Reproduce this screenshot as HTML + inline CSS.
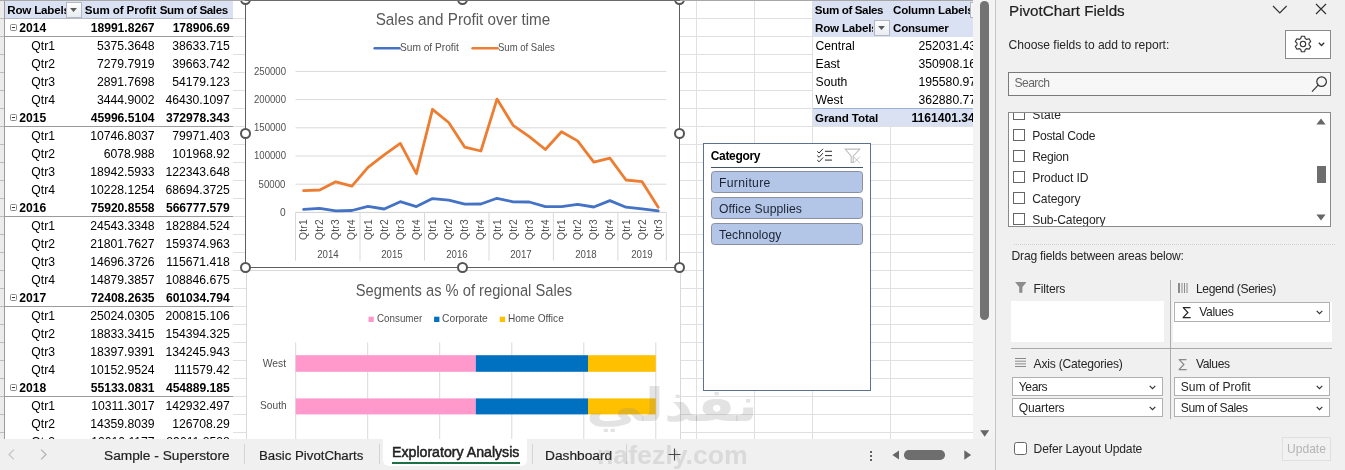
<!DOCTYPE html>
<html lang="en"><head><meta charset="utf-8"><title>Exploratory Analysis</title>
<style>
html,body{margin:0;padding:0}
body{width:1345px;height:470px;overflow:hidden;position:relative;background:#fff;font-family:"Liberation Sans",sans-serif;color:#000}
#root{position:absolute;left:0;top:0;width:1345px;height:470px;overflow:hidden}
#root div,#root span,#root svg{position:absolute;box-sizing:border-box}
#root span{line-height:18px;white-space:nowrap}
</style></head><body><div id="root">

<div id="sheet" style="left:0;top:0;width:973px;height:439px;background:#fff;overflow:hidden">
<div style="left:0px;top:18px;width:973px;height:1px;background:#e0e0e0"></div>
<div style="left:0px;top:36px;width:973px;height:1px;background:#e0e0e0"></div>
<div style="left:0px;top:54px;width:973px;height:1px;background:#e0e0e0"></div>
<div style="left:0px;top:72px;width:973px;height:1px;background:#e0e0e0"></div>
<div style="left:0px;top:90px;width:973px;height:1px;background:#e0e0e0"></div>
<div style="left:0px;top:108px;width:973px;height:1px;background:#e0e0e0"></div>
<div style="left:0px;top:126px;width:973px;height:1px;background:#e0e0e0"></div>
<div style="left:0px;top:144px;width:973px;height:1px;background:#e0e0e0"></div>
<div style="left:0px;top:162px;width:973px;height:1px;background:#e0e0e0"></div>
<div style="left:0px;top:180px;width:973px;height:1px;background:#e0e0e0"></div>
<div style="left:0px;top:198px;width:973px;height:1px;background:#e0e0e0"></div>
<div style="left:0px;top:216px;width:973px;height:1px;background:#e0e0e0"></div>
<div style="left:0px;top:234px;width:973px;height:1px;background:#e0e0e0"></div>
<div style="left:0px;top:252px;width:973px;height:1px;background:#e0e0e0"></div>
<div style="left:0px;top:270px;width:973px;height:1px;background:#e0e0e0"></div>
<div style="left:0px;top:288px;width:973px;height:1px;background:#e0e0e0"></div>
<div style="left:0px;top:306px;width:973px;height:1px;background:#e0e0e0"></div>
<div style="left:0px;top:324px;width:973px;height:1px;background:#e0e0e0"></div>
<div style="left:0px;top:342px;width:973px;height:1px;background:#e0e0e0"></div>
<div style="left:0px;top:360px;width:973px;height:1px;background:#e0e0e0"></div>
<div style="left:0px;top:378px;width:973px;height:1px;background:#e0e0e0"></div>
<div style="left:0px;top:396px;width:973px;height:1px;background:#e0e0e0"></div>
<div style="left:0px;top:414px;width:973px;height:1px;background:#e0e0e0"></div>
<div style="left:0px;top:432px;width:973px;height:1px;background:#e0e0e0"></div>
<div style="left:232.0px;top:0px;width:1px;height:439px;background:#e0e0e0"></div>
<div style="left:696.0px;top:0px;width:1px;height:439px;background:#e0e0e0"></div>
<div style="left:754.0px;top:0px;width:1px;height:439px;background:#e0e0e0"></div>
<div style="left:812.0px;top:0px;width:1px;height:439px;background:#e0e0e0"></div>
<div style="left:890.0px;top:0px;width:1px;height:439px;background:#e0e0e0"></div>
<div style="left:0px;top:0px;width:4px;height:439px;background:#ececec"></div>
<div style="left:0px;top:18px;width:4px;height:1px;background:#bdbdbd"></div>
<div style="left:0px;top:36px;width:4px;height:1px;background:#bdbdbd"></div>
<div style="left:0px;top:54px;width:4px;height:1px;background:#bdbdbd"></div>
<div style="left:0px;top:72px;width:4px;height:1px;background:#bdbdbd"></div>
<div style="left:0px;top:90px;width:4px;height:1px;background:#bdbdbd"></div>
<div style="left:0px;top:108px;width:4px;height:1px;background:#bdbdbd"></div>
<div style="left:0px;top:126px;width:4px;height:1px;background:#bdbdbd"></div>
<div style="left:0px;top:144px;width:4px;height:1px;background:#bdbdbd"></div>
<div style="left:0px;top:162px;width:4px;height:1px;background:#bdbdbd"></div>
<div style="left:0px;top:180px;width:4px;height:1px;background:#bdbdbd"></div>
<div style="left:0px;top:198px;width:4px;height:1px;background:#bdbdbd"></div>
<div style="left:0px;top:216px;width:4px;height:1px;background:#bdbdbd"></div>
<div style="left:0px;top:234px;width:4px;height:1px;background:#bdbdbd"></div>
<div style="left:0px;top:252px;width:4px;height:1px;background:#bdbdbd"></div>
<div style="left:0px;top:270px;width:4px;height:1px;background:#bdbdbd"></div>
<div style="left:0px;top:288px;width:4px;height:1px;background:#bdbdbd"></div>
<div style="left:0px;top:306px;width:4px;height:1px;background:#bdbdbd"></div>
<div style="left:0px;top:324px;width:4px;height:1px;background:#bdbdbd"></div>
<div style="left:0px;top:342px;width:4px;height:1px;background:#bdbdbd"></div>
<div style="left:0px;top:360px;width:4px;height:1px;background:#bdbdbd"></div>
<div style="left:0px;top:378px;width:4px;height:1px;background:#bdbdbd"></div>
<div style="left:0px;top:396px;width:4px;height:1px;background:#bdbdbd"></div>
<div style="left:0px;top:414px;width:4px;height:1px;background:#bdbdbd"></div>
<div style="left:0px;top:432px;width:4px;height:1px;background:#bdbdbd"></div>
<div style="left:4px;top:0px;width:1px;height:439px;background:#9c9c9c"></div>
</div>
<div id="pt1" style="left:5px;top:0;width:227.5px;height:439px;background:#fff;overflow:hidden"></div>
<div style="left:5px;top:0px;width:227.5px;height:19px;background:#d9e1f2;border-bottom:1px solid #b4bac6"></div>
<span style="top:0.80px;font-size:11.6px;font-weight:700;letter-spacing:-0.184px;left:7.20px;width:58.8px;overflow:hidden;">Row Labels</span>
<span style="top:0.80px;font-size:11.6px;font-weight:700;letter-spacing:-0.102px;left:84.80px;">Sum of Profit</span>
<span style="top:0.80px;font-size:11.6px;font-weight:700;letter-spacing:-0.386px;right:1117.19px;">Sum of Sales</span>
<div style="left:66px;top:1.5px;width:15.5px;height:16px;background:linear-gradient(#fdfdfd,#e9edf2);border:1px solid #b5b9bf"></div>
<svg style="left:70px;top:7.8px" width="7" height="4.2" viewBox="0 0 7 4.2"><path d="M0.1 0.1h6.8L3.5 4.1z" fill="#5c5c5c"/></svg>
<span style="top:18.60px;font-size:12.1px;font-weight:700;left:19.30px;">2014</span>
<span style="top:18.60px;font-size:12.1px;font-weight:700;right:1190.40px;">18991.8267</span>
<span style="top:18.60px;font-size:12.1px;font-weight:700;right:1115.20px;">178906.69</span>
<div style="left:5px;top:36px;width:227.5px;height:1px;background:#9a9a9a"></div>
<div style="left:10px;top:24.0px;width:7px;height:7px;border:1px solid #8c8c8c;background:#fff;border-radius:1.5px"></div>
<div style="left:12px;top:27.1px;width:3px;height:1px;background:#333"></div>
<span style="top:36.60px;font-size:12.2px;left:31.30px;">Qtr1</span>
<span style="top:36.60px;font-size:12.2px;right:1190.40px;">5375.3648</span>
<span style="top:36.60px;font-size:12.2px;right:1115.20px;">38633.715</span>
<span style="top:54.60px;font-size:12.2px;left:31.30px;">Qtr2</span>
<span style="top:54.60px;font-size:12.2px;right:1190.40px;">7279.7919</span>
<span style="top:54.60px;font-size:12.2px;right:1115.20px;">39663.742</span>
<span style="top:72.60px;font-size:12.2px;left:31.30px;">Qtr3</span>
<span style="top:72.60px;font-size:12.2px;right:1190.40px;">2891.7698</span>
<span style="top:72.60px;font-size:12.2px;right:1115.20px;">54179.123</span>
<span style="top:90.60px;font-size:12.2px;left:31.30px;">Qtr4</span>
<span style="top:90.60px;font-size:12.2px;right:1190.40px;">3444.9002</span>
<span style="top:90.60px;font-size:12.2px;right:1115.20px;">46430.1097</span>
<span style="top:108.60px;font-size:12.1px;font-weight:700;left:19.30px;">2015</span>
<span style="top:108.60px;font-size:12.1px;font-weight:700;right:1190.40px;">45996.5104</span>
<span style="top:108.60px;font-size:12.1px;font-weight:700;right:1115.20px;">372978.343</span>
<div style="left:5px;top:126px;width:227.5px;height:1px;background:#9a9a9a"></div>
<div style="left:10px;top:114.0px;width:7px;height:7px;border:1px solid #8c8c8c;background:#fff;border-radius:1.5px"></div>
<div style="left:12px;top:117.1px;width:3px;height:1px;background:#333"></div>
<span style="top:126.60px;font-size:12.2px;left:31.30px;">Qtr1</span>
<span style="top:126.60px;font-size:12.2px;right:1190.40px;">10746.8037</span>
<span style="top:126.60px;font-size:12.2px;right:1115.20px;">79971.403</span>
<span style="top:144.60px;font-size:12.2px;left:31.30px;">Qtr2</span>
<span style="top:144.60px;font-size:12.2px;right:1190.40px;">6078.988</span>
<span style="top:144.60px;font-size:12.2px;right:1115.20px;">101968.92</span>
<span style="top:162.60px;font-size:12.2px;left:31.30px;">Qtr3</span>
<span style="top:162.60px;font-size:12.2px;right:1190.40px;">18942.5933</span>
<span style="top:162.60px;font-size:12.2px;right:1115.20px;">122343.648</span>
<span style="top:180.60px;font-size:12.2px;left:31.30px;">Qtr4</span>
<span style="top:180.60px;font-size:12.2px;right:1190.40px;">10228.1254</span>
<span style="top:180.60px;font-size:12.2px;right:1115.20px;">68694.3725</span>
<span style="top:198.60px;font-size:12.1px;font-weight:700;left:19.30px;">2016</span>
<span style="top:198.60px;font-size:12.1px;font-weight:700;right:1190.40px;">75920.8558</span>
<span style="top:198.60px;font-size:12.1px;font-weight:700;right:1115.20px;">566777.579</span>
<div style="left:5px;top:216px;width:227.5px;height:1px;background:#9a9a9a"></div>
<div style="left:10px;top:204.0px;width:7px;height:7px;border:1px solid #8c8c8c;background:#fff;border-radius:1.5px"></div>
<div style="left:12px;top:207.1px;width:3px;height:1px;background:#333"></div>
<span style="top:216.60px;font-size:12.2px;left:31.30px;">Qtr1</span>
<span style="top:216.60px;font-size:12.2px;right:1190.40px;">24543.3348</span>
<span style="top:216.60px;font-size:12.2px;right:1115.20px;">182884.524</span>
<span style="top:234.60px;font-size:12.2px;left:31.30px;">Qtr2</span>
<span style="top:234.60px;font-size:12.2px;right:1190.40px;">21801.7627</span>
<span style="top:234.60px;font-size:12.2px;right:1115.20px;">159374.963</span>
<span style="top:252.60px;font-size:12.2px;left:31.30px;">Qtr3</span>
<span style="top:252.60px;font-size:12.2px;right:1190.40px;">14696.3726</span>
<span style="top:252.60px;font-size:12.2px;right:1115.20px;">115671.418</span>
<span style="top:270.60px;font-size:12.2px;left:31.30px;">Qtr4</span>
<span style="top:270.60px;font-size:12.2px;right:1190.40px;">14879.3857</span>
<span style="top:270.60px;font-size:12.2px;right:1115.20px;">108846.675</span>
<span style="top:288.60px;font-size:12.1px;font-weight:700;left:19.30px;">2017</span>
<span style="top:288.60px;font-size:12.1px;font-weight:700;right:1190.40px;">72408.2635</span>
<span style="top:288.60px;font-size:12.1px;font-weight:700;right:1115.20px;">601034.794</span>
<div style="left:5px;top:306px;width:227.5px;height:1px;background:#9a9a9a"></div>
<div style="left:10px;top:294.0px;width:7px;height:7px;border:1px solid #8c8c8c;background:#fff;border-radius:1.5px"></div>
<div style="left:12px;top:297.1px;width:3px;height:1px;background:#333"></div>
<span style="top:306.60px;font-size:12.2px;left:31.30px;">Qtr1</span>
<span style="top:306.60px;font-size:12.2px;right:1190.40px;">25024.0305</span>
<span style="top:306.60px;font-size:12.2px;right:1115.20px;">200815.106</span>
<span style="top:324.60px;font-size:12.2px;left:31.30px;">Qtr2</span>
<span style="top:324.60px;font-size:12.2px;right:1190.40px;">18833.3415</span>
<span style="top:324.60px;font-size:12.2px;right:1115.20px;">154394.325</span>
<span style="top:342.60px;font-size:12.2px;left:31.30px;">Qtr3</span>
<span style="top:342.60px;font-size:12.2px;right:1190.40px;">18397.9391</span>
<span style="top:342.60px;font-size:12.2px;right:1115.20px;">134245.943</span>
<span style="top:360.60px;font-size:12.2px;left:31.30px;">Qtr4</span>
<span style="top:360.60px;font-size:12.2px;right:1190.40px;">10152.9524</span>
<span style="top:360.60px;font-size:12.2px;right:1115.20px;">111579.42</span>
<span style="top:378.60px;font-size:12.1px;font-weight:700;left:19.30px;">2018</span>
<span style="top:378.60px;font-size:12.1px;font-weight:700;right:1190.40px;">55133.0831</span>
<span style="top:378.60px;font-size:12.1px;font-weight:700;right:1115.20px;">454889.185</span>
<div style="left:5px;top:396px;width:227.5px;height:1px;background:#9a9a9a"></div>
<div style="left:10px;top:384.0px;width:7px;height:7px;border:1px solid #8c8c8c;background:#fff;border-radius:1.5px"></div>
<div style="left:12px;top:387.1px;width:3px;height:1px;background:#333"></div>
<span style="top:396.60px;font-size:12.2px;left:31.30px;">Qtr1</span>
<span style="top:396.60px;font-size:12.2px;right:1190.40px;">10311.3017</span>
<span style="top:396.60px;font-size:12.2px;right:1115.20px;">142932.497</span>
<span style="top:414.60px;font-size:12.2px;left:31.30px;">Qtr2</span>
<span style="top:414.60px;font-size:12.2px;right:1190.40px;">14359.8039</span>
<span style="top:414.60px;font-size:12.2px;right:1115.20px;">126708.29</span>
<span style="top:432.60px;font-size:12.2px;left:31.30px;">Qtr3</span>
<span style="top:432.60px;font-size:12.2px;right:1190.40px;">12010.1177</span>
<span style="top:432.60px;font-size:12.2px;right:1115.20px;">89011.3538</span>
<div id="pt2" style="left:813px;top:0;width:160px;height:126px;background:#fff;overflow:hidden">
<div style="left:0;top:0;width:160px;height:36.5px;background:#d9e1f2"></div>
<div style="left:0;top:108px;width:160px;height:18px;background:#d9e1f2;border-top:1px solid #9ab3d5"></div>
</div>
<span style="top:1.00px;font-size:11.6px;font-weight:700;letter-spacing:-0.368px;left:814.80px;">Sum of Sales</span>
<span style="top:1.00px;font-size:11.6px;font-weight:700;letter-spacing:-0.195px;left:893.00px;width:76.6px;overflow:hidden;">Column Labels</span>
<span style="top:19.00px;font-size:11.6px;font-weight:700;letter-spacing:-0.184px;left:815.00px;width:58.4px;overflow:hidden;">Row Labels</span>
<span style="top:19.00px;font-size:11.6px;font-weight:700;letter-spacing:-0.224px;left:893.00px;">Consumer</span>
<div style="left:873.5px;top:19.5px;width:16px;height:16.5px;background:linear-gradient(#fdfdfd,#e9edf2);border:1px solid #b5b9bf"></div>
<svg style="left:878px;top:25.8px" width="7" height="4.2" viewBox="0 0 7 4.2"><path d="M0.1 0.1h6.8L3.5 4.1z" fill="#5c5c5c"/></svg>
<div style="left:970px;top:1.5px;width:3px;height:16px;background:#f3f5f8;border:1px solid #b5b9bf;border-right:0"></div>
<span style="top:36.60px;font-size:12.2px;left:815.50px;">Central</span>
<span style="top:36.60px;font-size:12.2px;left:918.50px;width:54.5px;overflow:hidden;">252031.434</span>
<span style="top:54.60px;font-size:12.2px;left:815.50px;">East</span>
<span style="top:54.60px;font-size:12.2px;left:918.50px;width:54.5px;overflow:hidden;">350908.167</span>
<span style="top:72.60px;font-size:12.2px;left:815.50px;">South</span>
<span style="top:72.60px;font-size:12.2px;left:918.50px;width:54.5px;overflow:hidden;">195580.971</span>
<span style="top:90.60px;font-size:12.2px;left:815.50px;">West</span>
<span style="top:90.60px;font-size:12.2px;left:918.50px;width:54.5px;overflow:hidden;">362880.773</span>
<span style="top:108.80px;font-size:11.6px;font-weight:700;letter-spacing:-0.093px;left:815.00px;">Grand Total</span>
<span style="top:108.80px;font-size:12.1px;font-weight:700;left:911.50px;width:61.5px;overflow:hidden;">1161401.345</span>
<div id="chart2" style="left:246px;top:269.5px;width:435px;height:170px;background:#fff;border:1px solid #d9d9d9"></div>
<svg id="c2" style="left:0;top:0" width="973" height="439" viewBox="0 0 973 439">
<line x1="295.7" y1="342.5" x2="295.7" y2="439" stroke="#d9d9d9" stroke-width="1"/>
<line x1="367.7" y1="342.5" x2="367.7" y2="439" stroke="#d9d9d9" stroke-width="1"/>
<line x1="439.7" y1="342.5" x2="439.7" y2="439" stroke="#d9d9d9" stroke-width="1"/>
<line x1="511.8" y1="342.5" x2="511.8" y2="439" stroke="#d9d9d9" stroke-width="1"/>
<line x1="583.8" y1="342.5" x2="583.8" y2="439" stroke="#d9d9d9" stroke-width="1"/>
<line x1="655.8" y1="342.5" x2="655.8" y2="439" stroke="#d9d9d9" stroke-width="1"/>
<rect x="295.7" y="355.2" width="180.1" height="16.6" fill="#ff99cc"/>
<rect x="475.8" y="355.2" width="112.2" height="16.6" fill="#0070c0"/>
<rect x="588" y="355.2" width="67.8" height="16.6" fill="#ffc000"/>
<rect x="295.7" y="398.4" width="180.1" height="16.0" fill="#ff99cc"/>
<rect x="475.8" y="398.4" width="112.2" height="16.0" fill="#0070c0"/>
<rect x="588" y="398.4" width="67.8" height="16.0" fill="#ffc000"/>
<rect x="368.5" y="316.7" width="5.3" height="5.3" fill="#ff99cc"/>
<rect x="434.1" y="316.7" width="5.3" height="5.3" fill="#0070c0"/>
<rect x="499.8" y="316.7" width="5.3" height="5.3" fill="#ffc000"/>
</svg>
<span style="top:281.30px;font-size:16.3px;color:#595959;left:164.00px;width:600px;text-align:center;transform:scaleX(0.9021);transform-origin:50% 50%;">Segments as % of regional Sales</span>
<span style="top:309.90px;font-size:10.2px;color:#505050;left:376.60px;transform:scaleX(0.9628);transform-origin:0 50%;">Consumer</span>
<span style="top:309.90px;font-size:10.2px;color:#505050;left:441.80px;transform:scaleX(1.0097);transform-origin:0 50%;">Corporate</span>
<span style="top:309.90px;font-size:10.2px;color:#505050;left:507.60px;transform:scaleX(0.9876);transform-origin:0 50%;">Home Office</span>
<span style="top:354.60px;font-size:10.2px;color:#505050;right:1058.70px;transform:scaleX(1.0152);transform-origin:100% 50%;">West</span>
<span style="top:396.60px;font-size:10.2px;color:#505050;right:1058.70px;transform:scaleX(0.9979);transform-origin:100% 50%;">South</span>
<div id="chart1" style="left:245px;top:-1px;width:435.4px;height:269px;background:#fff;border:1.5px solid #5e5e5e"></div>
<svg id="c1" style="left:0;top:0" width="973" height="439" viewBox="0 0 973 439">
<line x1="295.5" y1="184.2" x2="666.3" y2="184.2" stroke="#d9d9d9" stroke-width="1"/>
<line x1="295.5" y1="156.0" x2="666.3" y2="156.0" stroke="#d9d9d9" stroke-width="1"/>
<line x1="295.5" y1="127.8" x2="666.3" y2="127.8" stroke="#d9d9d9" stroke-width="1"/>
<line x1="295.5" y1="99.6" x2="666.3" y2="99.6" stroke="#d9d9d9" stroke-width="1"/>
<line x1="295.5" y1="71.4" x2="666.3" y2="71.4" stroke="#d9d9d9" stroke-width="1"/>
<line x1="295.5" y1="212.4" x2="666.3" y2="212.4" stroke="#d0d0d0" stroke-width="1"/>
<line x1="295.5" y1="212.4" x2="295.5" y2="260.6" stroke="#d9d9d9" stroke-width="1"/>
<line x1="360.0" y1="212.4" x2="360.0" y2="260.6" stroke="#d9d9d9" stroke-width="1"/>
<line x1="424.5" y1="212.4" x2="424.5" y2="260.6" stroke="#d9d9d9" stroke-width="1"/>
<line x1="489.0" y1="212.4" x2="489.0" y2="260.6" stroke="#d9d9d9" stroke-width="1"/>
<line x1="553.4" y1="212.4" x2="553.4" y2="260.6" stroke="#d9d9d9" stroke-width="1"/>
<line x1="617.9" y1="212.4" x2="617.9" y2="260.6" stroke="#d9d9d9" stroke-width="1"/>
<line x1="666.3" y1="212.4" x2="666.3" y2="260.6" stroke="#d9d9d9" stroke-width="1"/>
<polyline points="303.6,190.6 319.7,190.0 335.8,181.8 351.9,186.2 368.0,167.3 384.2,154.9 400.3,143.4 416.4,173.7 432.5,109.3 448.7,122.5 464.8,147.2 480.9,151.0 497.0,99.1 513.1,125.3 529.3,136.7 545.4,149.5 561.5,131.8 577.6,140.9 593.8,162.2 609.9,158.1 626.0,180.0 642.1,181.7 658.2,207.2" fill="none" stroke="#ed7d31" stroke-width="2.8" stroke-linejoin="round" stroke-linecap="round"/>
<polyline points="303.6,209.4 319.7,208.3 335.8,210.8 351.9,210.5 368.0,206.3 384.2,209.0 400.3,201.7 416.4,206.6 432.5,198.6 448.7,200.1 464.8,204.1 480.9,204.0 497.0,198.3 513.1,201.8 529.3,202.0 545.4,206.7 561.5,206.6 577.6,204.3 593.8,207.0 609.9,200.6 626.0,207.2 642.1,208.9 658.2,210.9" fill="none" stroke="#4472c4" stroke-width="2.8" stroke-linejoin="round" stroke-linecap="round"/>
<line x1="374.7" y1="48.3" x2="399.5" y2="48.3" stroke="#4472c4" stroke-width="2.6" stroke-linecap="round"/>
<line x1="472.6" y1="48.3" x2="497.6" y2="48.3" stroke="#ed7d31" stroke-width="2.6" stroke-linecap="round"/>
<text x="303.6" y="229.5" transform="rotate(-90 303.6 229.5)" text-anchor="middle" dominant-baseline="central" font-family="Liberation Sans, sans-serif" font-size="10.2" letter-spacing="0.3" fill="#505050">Qtr1</text>
<text x="319.7" y="229.5" transform="rotate(-90 319.7 229.5)" text-anchor="middle" dominant-baseline="central" font-family="Liberation Sans, sans-serif" font-size="10.2" letter-spacing="0.3" fill="#505050">Qtr2</text>
<text x="335.8" y="229.5" transform="rotate(-90 335.8 229.5)" text-anchor="middle" dominant-baseline="central" font-family="Liberation Sans, sans-serif" font-size="10.2" letter-spacing="0.3" fill="#505050">Qtr3</text>
<text x="351.9" y="229.5" transform="rotate(-90 351.9 229.5)" text-anchor="middle" dominant-baseline="central" font-family="Liberation Sans, sans-serif" font-size="10.2" letter-spacing="0.3" fill="#505050">Qtr4</text>
<text x="368.0" y="229.5" transform="rotate(-90 368.0 229.5)" text-anchor="middle" dominant-baseline="central" font-family="Liberation Sans, sans-serif" font-size="10.2" letter-spacing="0.3" fill="#505050">Qtr1</text>
<text x="384.2" y="229.5" transform="rotate(-90 384.2 229.5)" text-anchor="middle" dominant-baseline="central" font-family="Liberation Sans, sans-serif" font-size="10.2" letter-spacing="0.3" fill="#505050">Qtr2</text>
<text x="400.3" y="229.5" transform="rotate(-90 400.3 229.5)" text-anchor="middle" dominant-baseline="central" font-family="Liberation Sans, sans-serif" font-size="10.2" letter-spacing="0.3" fill="#505050">Qtr3</text>
<text x="416.4" y="229.5" transform="rotate(-90 416.4 229.5)" text-anchor="middle" dominant-baseline="central" font-family="Liberation Sans, sans-serif" font-size="10.2" letter-spacing="0.3" fill="#505050">Qtr4</text>
<text x="432.5" y="229.5" transform="rotate(-90 432.5 229.5)" text-anchor="middle" dominant-baseline="central" font-family="Liberation Sans, sans-serif" font-size="10.2" letter-spacing="0.3" fill="#505050">Qtr1</text>
<text x="448.7" y="229.5" transform="rotate(-90 448.7 229.5)" text-anchor="middle" dominant-baseline="central" font-family="Liberation Sans, sans-serif" font-size="10.2" letter-spacing="0.3" fill="#505050">Qtr2</text>
<text x="464.8" y="229.5" transform="rotate(-90 464.8 229.5)" text-anchor="middle" dominant-baseline="central" font-family="Liberation Sans, sans-serif" font-size="10.2" letter-spacing="0.3" fill="#505050">Qtr3</text>
<text x="480.9" y="229.5" transform="rotate(-90 480.9 229.5)" text-anchor="middle" dominant-baseline="central" font-family="Liberation Sans, sans-serif" font-size="10.2" letter-spacing="0.3" fill="#505050">Qtr4</text>
<text x="497.0" y="229.5" transform="rotate(-90 497.0 229.5)" text-anchor="middle" dominant-baseline="central" font-family="Liberation Sans, sans-serif" font-size="10.2" letter-spacing="0.3" fill="#505050">Qtr1</text>
<text x="513.1" y="229.5" transform="rotate(-90 513.1 229.5)" text-anchor="middle" dominant-baseline="central" font-family="Liberation Sans, sans-serif" font-size="10.2" letter-spacing="0.3" fill="#505050">Qtr2</text>
<text x="529.3" y="229.5" transform="rotate(-90 529.3 229.5)" text-anchor="middle" dominant-baseline="central" font-family="Liberation Sans, sans-serif" font-size="10.2" letter-spacing="0.3" fill="#505050">Qtr3</text>
<text x="545.4" y="229.5" transform="rotate(-90 545.4 229.5)" text-anchor="middle" dominant-baseline="central" font-family="Liberation Sans, sans-serif" font-size="10.2" letter-spacing="0.3" fill="#505050">Qtr4</text>
<text x="561.5" y="229.5" transform="rotate(-90 561.5 229.5)" text-anchor="middle" dominant-baseline="central" font-family="Liberation Sans, sans-serif" font-size="10.2" letter-spacing="0.3" fill="#505050">Qtr1</text>
<text x="577.6" y="229.5" transform="rotate(-90 577.6 229.5)" text-anchor="middle" dominant-baseline="central" font-family="Liberation Sans, sans-serif" font-size="10.2" letter-spacing="0.3" fill="#505050">Qtr2</text>
<text x="593.8" y="229.5" transform="rotate(-90 593.8 229.5)" text-anchor="middle" dominant-baseline="central" font-family="Liberation Sans, sans-serif" font-size="10.2" letter-spacing="0.3" fill="#505050">Qtr3</text>
<text x="609.9" y="229.5" transform="rotate(-90 609.9 229.5)" text-anchor="middle" dominant-baseline="central" font-family="Liberation Sans, sans-serif" font-size="10.2" letter-spacing="0.3" fill="#505050">Qtr4</text>
<text x="626.0" y="229.5" transform="rotate(-90 626.0 229.5)" text-anchor="middle" dominant-baseline="central" font-family="Liberation Sans, sans-serif" font-size="10.2" letter-spacing="0.3" fill="#505050">Qtr1</text>
<text x="642.1" y="229.5" transform="rotate(-90 642.1 229.5)" text-anchor="middle" dominant-baseline="central" font-family="Liberation Sans, sans-serif" font-size="10.2" letter-spacing="0.3" fill="#505050">Qtr2</text>
<text x="658.2" y="229.5" transform="rotate(-90 658.2 229.5)" text-anchor="middle" dominant-baseline="central" font-family="Liberation Sans, sans-serif" font-size="10.2" letter-spacing="0.3" fill="#505050">Qtr3</text>
</svg>
<span style="top:10.30px;font-size:16.3px;color:#595959;left:163.00px;width:600px;text-align:center;transform:scaleX(0.9366);transform-origin:50% 50%;">Sales and Profit over time</span>
<span style="top:38.60px;font-size:10.2px;color:#505050;left:400.20px;transform:scaleX(0.9974);transform-origin:0 50%;">Sum of Profit</span>
<span style="top:38.60px;font-size:10.2px;color:#505050;left:498.20px;transform:scaleX(0.9363);transform-origin:0 50%;">Sum of Sales</span>
<span style="top:203.70px;font-size:10.2px;color:#505050;right:1059.20px;transform:scaleX(0.9995);transform-origin:100% 50%;">0</span>
<span style="top:175.50px;font-size:10.2px;color:#505050;right:1059.20px;transform:scaleX(0.9431);transform-origin:100% 50%;">50000</span>
<span style="top:147.30px;font-size:10.2px;color:#505050;right:1059.20px;transform:scaleX(0.9407);transform-origin:100% 50%;">100000</span>
<span style="top:119.10px;font-size:10.2px;color:#505050;right:1059.20px;transform:scaleX(0.9407);transform-origin:100% 50%;">150000</span>
<span style="top:90.90px;font-size:10.2px;color:#505050;right:1059.20px;transform:scaleX(0.9407);transform-origin:100% 50%;">200000</span>
<span style="top:62.70px;font-size:10.2px;color:#505050;right:1059.20px;transform:scaleX(0.9407);transform-origin:100% 50%;">250000</span>
<span style="top:245.80px;font-size:10.2px;color:#505050;left:27.74px;width:600px;text-align:center;transform:scaleX(0.9475);transform-origin:50% 50%;">2014</span>
<span style="top:245.80px;font-size:10.2px;color:#505050;left:92.23px;width:600px;text-align:center;transform:scaleX(0.9475);transform-origin:50% 50%;">2015</span>
<span style="top:245.80px;font-size:10.2px;color:#505050;left:156.72px;width:600px;text-align:center;transform:scaleX(0.9475);transform-origin:50% 50%;">2016</span>
<span style="top:245.80px;font-size:10.2px;color:#505050;left:221.20px;width:600px;text-align:center;transform:scaleX(0.9475);transform-origin:50% 50%;">2017</span>
<span style="top:245.80px;font-size:10.2px;color:#505050;left:285.69px;width:600px;text-align:center;transform:scaleX(0.9475);transform-origin:50% 50%;">2018</span>
<span style="top:245.80px;font-size:10.2px;color:#505050;left:342.12px;width:600px;text-align:center;transform:scaleX(0.9475);transform-origin:50% 50%;">2019</span>
<div style="left:240.2px;top:-5.8px;width:11px;height:11px;border-radius:50%;background:#fff;border:2.1px solid #555"></div>
<div style="left:457.1px;top:-5.8px;width:11px;height:11px;border-radius:50%;background:#fff;border:2.1px solid #555"></div>
<div style="left:674.1px;top:-5.8px;width:11px;height:11px;border-radius:50%;background:#fff;border:2.1px solid #555"></div>
<div style="left:240.2px;top:127.9px;width:11px;height:11px;border-radius:50%;background:#fff;border:2.1px solid #555"></div>
<div style="left:674.1px;top:127.9px;width:11px;height:11px;border-radius:50%;background:#fff;border:2.1px solid #555"></div>
<div style="left:240.2px;top:261.9px;width:11px;height:11px;border-radius:50%;background:#fff;border:2.1px solid #555"></div>
<div style="left:457.1px;top:261.9px;width:11px;height:11px;border-radius:50%;background:#fff;border:2.1px solid #555"></div>
<div style="left:674.1px;top:261.9px;width:11px;height:11px;border-radius:50%;background:#fff;border:2.1px solid #555"></div>
<div id="slicer" style="left:703px;top:143px;width:168px;height:247.5px;background:#fff;border:1px solid #5b7391"></div>
<span style="top:147.30px;font-size:12px;font-weight:700;letter-spacing:-0.345px;left:710.80px;">Category</span>
<div style="left:711px;top:167px;width:152px;height:1.3px;background:#44546a"></div>
<div style="left:711px;top:171.2px;width:152px;height:22.3px;background:#b4c6e7;border:1px solid #8a90a2;border-radius:3.5px"></div>
<span style="top:173.90px;font-size:12.2px;color:#1c2434;letter-spacing:0.322px;left:719.00px;">Furniture</span>
<div style="left:711px;top:197.2px;width:152px;height:22.3px;background:#b4c6e7;border:1px solid #8a90a2;border-radius:3.5px"></div>
<span style="top:199.90px;font-size:12.2px;color:#1c2434;letter-spacing:0.083px;left:719.00px;">Office Supplies</span>
<div style="left:711px;top:223.2px;width:152px;height:22.3px;background:#b4c6e7;border:1px solid #8a90a2;border-radius:3.5px"></div>
<span style="top:225.90px;font-size:12.2px;color:#1c2434;letter-spacing:0.075px;left:719.00px;">Technology</span>
<svg style="left:816px;top:148px" width="17" height="15" viewBox="0 0 17 15" fill="none" stroke="#2e2e2e" stroke-width="1">
<path d="M1.2 3.3l1.9 1.7L7 0.8M1.2 7.6l1.9 1.7L7 5.1M1.2 12.1l1.9 1.7L7 9.6M9 3.3H16M9 7.6H16M9 12.1H16"/></svg>
<svg style="left:844px;top:147.5px" width="17" height="16" viewBox="0 0 17 16" fill="none" stroke="#bdbdbd" stroke-width="1.1">
<path d="M1.2 1.1H15.8L9.2 8.2V14.4H7.2V8.2Z"/><path d="M9.6 8.8l6.2 6.2M15.8 8.8L9.6 15" stroke="#c4c4c4" stroke-width="1"/></svg>
<span style="left:572px;top:377px;width:200px;text-align:center;font-family:'DejaVu Sans',sans-serif;font-weight:700;font-size:46px;line-height:56px;color:rgba(128,128,128,0.22);direction:rtl;transform:scaleX(1.22);transform-origin:50% 50%">نفذلي</span>
<div style="left:0px;top:0px;width:973px;height:1px;background:#a8a8a8"></div>
<div style="left:245px;top:0px;width:435.4px;height:1px;background:#6a6a6a"></div>
<div style="left:973px;top:0px;width:22px;height:470px;background:#f3f3f3"></div>
<div style="left:0px;top:439px;width:995px;height:31px;background:#f0f0f0"></div>
<div style="left:980px;top:1px;width:9px;height:318.8px;background:#737373;border-radius:4.5px"></div>
<svg style="left:979.8px;top:430px" width="9.4" height="7" viewBox="0 0 9.4 7"><path d="M0.2 0.3h9L4.7 6.8z" fill="#666"/></svg>
<div style="left:995px;top:0px;width:1px;height:470px;background:#c6c6c6"></div>
<svg style="left:7.5px;top:449.3px" width="7" height="11" viewBox="0 0 7 11" fill="none" stroke="#c6c6c6" stroke-width="1.3"><path d="M5.9 0.6L1 5.5l4.9 4.9"/></svg>
<svg style="left:40.3px;top:449.3px" width="7" height="11" viewBox="0 0 7 11" fill="none" stroke="#b4b4b4" stroke-width="1.3"><path d="M1.1 0.6L6 5.5l-4.9 4.9"/></svg>
<span style="top:446.60px;font-size:13.7px;color:#1e1e1e;left:104.00px;transform:scaleX(1.0012);transform-origin:0 50%;-webkit-text-stroke:0.2px #1e1e1e;">Sample - Superstore</span>
<div style="left:244px;top:444px;width:1px;height:19.5px;background:#d4d4d4"></div>
<span style="top:446.60px;font-size:13.7px;color:#1e1e1e;left:259.20px;transform:scaleX(0.9665);transform-origin:0 50%;-webkit-text-stroke:0.2px #1e1e1e;">Basic PivotCharts</span>
<div style="left:378.5px;top:444px;width:1px;height:19.5px;background:#d4d4d4"></div>
<div style="left:383px;top:439px;width:144px;height:27px;background:#fff;border-radius:0 0 6px 6px"></div>
<span style="top:443.40px;font-size:14.0px;color:#222;left:391.60px;transform:scaleX(1.0106);transform-origin:0 50%;-webkit-text-stroke:0.5px #222;">Exploratory Analysis</span>
<div style="left:391.5px;top:462px;width:128px;height:2px;background:#1e7145"></div>
<div style="left:531.5px;top:444px;width:1px;height:19.5px;background:#d4d4d4"></div>
<span style="top:446.60px;font-size:13.7px;color:#1e1e1e;left:545.00px;transform:scaleX(1.0026);transform-origin:0 50%;-webkit-text-stroke:0.2px #1e1e1e;">Dashboard</span>
<div style="left:625.5px;top:444px;width:1px;height:19.5px;background:#d4d4d4"></div>
<svg style="left:668px;top:448px" width="13" height="13" viewBox="0 0 13 13" stroke="#444" stroke-width="1.1"><path d="M6.5 0.5v12M0.5 6.5h12"/></svg>
<span style="left:596.5px;top:440px;font-size:26px;font-weight:700;line-height:30px;color:rgba(128,128,128,0.20);transform:scaleX(1.0265);transform-origin:0 50%">nafezly.com</span>
<div style="left:870px;top:450.5px;width:2px;height:2px;background:#333;border-radius:1px"></div>
<div style="left:870px;top:454.8px;width:2px;height:2px;background:#333;border-radius:1px"></div>
<div style="left:870px;top:459.1px;width:2px;height:2px;background:#333;border-radius:1px"></div>
<svg style="left:891.5px;top:449.8px" width="7.5" height="10" viewBox="0 0 7.5 10"><path d="M7.2 0.3v9.4L0.4 5z" fill="#666"/></svg>
<div style="left:904px;top:450px;width:41px;height:9.5px;background:#6e6e6e;border-radius:4.75px"></div>
<svg style="left:964px;top:449.8px" width="7.5" height="10" viewBox="0 0 7.5 10"><path d="M0.3 0.3v9.4L7.1 5z" fill="#666"/></svg>
<div style="left:996px;top:0px;width:349px;height:470px;background:#f0f0f0"></div>
<span style="top:1.70px;font-size:14.9px;color:#1f1f1f;left:1008.80px;transform:scaleX(1.0207);transform-origin:0 50%;-webkit-text-stroke:0.2px #1f1f1f;">PivotChart Fields</span>
<svg style="left:1272px;top:5px" width="16" height="9" viewBox="0 0 16 9" fill="none" stroke="#333" stroke-width="1.2"><path d="M1 1l6.8 6.8L14.6 1"/></svg>
<svg style="left:1315px;top:2.7px" width="12" height="12" viewBox="0 0 12 12" fill="none" stroke="#333" stroke-width="1.2"><path d="M1 1l10 10M11 1L1 11"/></svg>
<span style="top:36.00px;font-size:12.1px;color:#262626;letter-spacing:-0.044px;left:1008.60px;">Choose fields to add to report:</span>
<div style="left:1285px;top:30px;width:46px;height:28.5px;background:#fff;border:1px solid #8a8a8a"></div>
<svg style="left:1294px;top:35px" width="18" height="18" viewBox="-9 -9 18 18" fill="none" stroke="#333" stroke-width="1.1" stroke-linejoin="round">
<path d="M-1.6 -7.8h3.2l0.6 2.3 1.6 0.9 2.3-0.7 1.6 2.8-1.7 1.6v1.8l1.7 1.6-1.6 2.8-2.3-0.7-1.6 0.9-0.6 2.3h-3.2l-0.6-2.3-1.6-0.9-2.3 0.7-1.6-2.8 1.7-1.6v-1.8l-1.7-1.6 1.6-2.8 2.3 0.7 1.6-0.9z"/>
<circle cx="0" cy="0" r="2.7"/></svg>
<svg style="left:1318px;top:42px" width="7" height="5" viewBox="0 0 7 5" fill="none" stroke="#333" stroke-width="1.3"><path d="M0.8 0.8L3.5 3.5l2.7-2.7"/></svg>
<div style="left:1008px;top:72px;width:323px;height:24px;background:#f7f7f7;border:1px solid #7a7a7a"></div>
<span style="top:74.00px;font-size:12.1px;color:#666;letter-spacing:-0.608px;left:1014.60px;">Search</span>
<svg style="left:1311px;top:75px" width="18" height="18" viewBox="0 0 18 18" fill="none" stroke="#333" stroke-width="1.2"><circle cx="10.6" cy="6.6" r="4.8"/><path d="M7.2 10.2L1 16.6"/></svg>
<div id="fl" style="left:1008px;top:112px;width:323px;height:114.8px;background:#fff;border:1px solid #8a8a8a;overflow:hidden">
<div style="left:4.2px;top:-5.2px;width:12.2px;height:12.2px;border:1px solid #666;background:#fff"></div>
<span style="left:23.2px;top:-7.3px;font-size:12.1px;color:#262626;letter-spacing:0.137px">State</span>
<div style="left:4.2px;top:15.8px;width:12.2px;height:12.2px;border:1px solid #666;background:#fff"></div>
<span style="left:23.2px;top:13.7px;font-size:12.1px;color:#262626;letter-spacing:-0.262px">Postal Code</span>
<div style="left:4.2px;top:36.8px;width:12.2px;height:12.2px;border:1px solid #666;background:#fff"></div>
<span style="left:23.2px;top:34.7px;font-size:12.1px;color:#262626;letter-spacing:-0.309px">Region</span>
<div style="left:4.2px;top:57.8px;width:12.2px;height:12.2px;border:1px solid #666;background:#fff"></div>
<span style="left:23.2px;top:55.7px;font-size:12.1px;color:#262626;letter-spacing:-0.096px">Product ID</span>
<div style="left:4.2px;top:78.8px;width:12.2px;height:12.2px;border:1px solid #666;background:#fff"></div>
<span style="left:23.2px;top:76.7px;font-size:12.1px;color:#262626;letter-spacing:-0.114px">Category</span>
<div style="left:4.2px;top:99.8px;width:12.2px;height:12.2px;border:1px solid #666;background:#fff"></div>
<span style="left:23.2px;top:97.7px;font-size:12.1px;color:#262626;letter-spacing:-0.124px">Sub-Category</span>
<svg style="left:307px;top:5px" width="10" height="7" viewBox="0 0 10 7"><path d="M0.4 6.5h9.2L5 0.4z" fill="#666"/></svg>
<div style="left:308px;top:53.2px;width:9px;height:16.6px;background:#6e6e6e"></div>
<svg style="left:307px;top:100.5px" width="10" height="7" viewBox="0 0 10 7"><path d="M0.4 0.5h9.2L5 6.6z" fill="#666"/></svg>
</div>
<div style="left:1014px;top:244px;width:321px;height:1px;border-top:1px dotted #cfcfcf"></div>
<span style="top:247.40px;font-size:12.1px;color:#262626;letter-spacing:-0.21px;left:1011.60px;">Drag fields between areas below:</span>
<div style="left:1170px;top:280px;width:1px;height:139px;background:#acacac"></div>
<div style="left:1011px;top:348px;width:321px;height:1px;background:#a8a8a8"></div>
<svg style="left:1014.6px;top:281.8px" width="11.6" height="11" viewBox="0 0 11.6 11"><path d="M0.1 0.1h11.4L7.4 5v5.8H4.2V5z" fill="#8c8c8c"/></svg>
<span style="top:280.00px;font-size:12.1px;color:#262626;letter-spacing:-0.19px;left:1033.60px;">Filters</span>
<div style="left:1010.5px;top:301px;width:153px;height:41px;background:#fff"></div>
<svg style="left:1177.5px;top:283px" width="10" height="10" viewBox="0 0 10 10" stroke="#8a8a8a"><path d="M1 0v10" stroke-width="2"/><path d="M4 0v10M6.5 0v10M9 0v10" stroke-width="1"/></svg>
<span style="top:280.00px;font-size:12.1px;color:#262626;letter-spacing:-0.407px;left:1196.00px;">Legend (Series)</span>
<div style="left:1173px;top:301.5px;width:158.5px;height:40.5px;background:#fff"></div>
<div style="left:1174px;top:301.9px;width:156px;height:20px;background:#fff;border:1px solid #b0b0b0"></div>
<span style="top:303.20px;font-size:12.6px;color:#262626;left:1182.50px;font-family:'DejaVu Sans',sans-serif;">∑</span>
<span style="top:303.30px;font-size:12.1px;color:#262626;letter-spacing:-0.3px;left:1199.20px;">Values</span>
<svg style="left:1316px;top:310.4px" width="7" height="5" viewBox="0 0 7 5" fill="none" stroke="#333" stroke-width="1.2"><path d="M0.7 0.8L3.5 3.6 6.3 0.8"/></svg>
<svg style="left:1015px;top:358px" width="11" height="9" viewBox="0 0 11 9" stroke="#8a8a8a" stroke-width="1"><path d="M0 0.5h11M0 3.2h11M0 5.9h11M0 8.5h11"/></svg>
<span style="top:355.00px;font-size:12.1px;color:#262626;letter-spacing:-0.219px;left:1033.60px;">Axis (Categories)</span>
<div style="left:1012px;top:377.1px;width:150.5px;height:18.8px;background:#fff;border:1px solid #b0b0b0"></div>
<span style="top:377.90px;font-size:12.1px;color:#262626;letter-spacing:-0.425px;left:1018.80px;">Years</span>
<svg style="left:1148.5px;top:385.0px" width="7" height="5" viewBox="0 0 7 5" fill="none" stroke="#333" stroke-width="1.2"><path d="M0.7 0.8L3.5 3.6 6.3 0.8"/></svg>
<div style="left:1012px;top:398.1px;width:150.5px;height:18.8px;background:#fff;border:1px solid #b0b0b0"></div>
<span style="top:398.90px;font-size:12.1px;color:#262626;letter-spacing:-0.182px;left:1018.80px;">Quarters</span>
<svg style="left:1148.5px;top:406.0px" width="7" height="5" viewBox="0 0 7 5" fill="none" stroke="#333" stroke-width="1.2"><path d="M0.7 0.8L3.5 3.6 6.3 0.8"/></svg>
<span style="top:354.80px;font-size:12.6px;color:#8a8a8a;left:1178.50px;font-family:'DejaVu Sans',sans-serif;">∑</span>
<span style="top:355.00px;font-size:12.1px;color:#262626;letter-spacing:-0.42px;left:1196.00px;">Values</span>
<div style="left:1174px;top:377.1px;width:156px;height:18.8px;background:#fff;border:1px solid #b0b0b0"></div>
<span style="top:377.90px;font-size:12.1px;color:#262626;letter-spacing:-0.011px;left:1180.80px;">Sum of Profit</span>
<svg style="left:1316px;top:385.0px" width="7" height="5" viewBox="0 0 7 5" fill="none" stroke="#333" stroke-width="1.2"><path d="M0.7 0.8L3.5 3.6 6.3 0.8"/></svg>
<div style="left:1174px;top:398.1px;width:156px;height:18.8px;background:#fff;border:1px solid #b0b0b0"></div>
<span style="top:398.90px;font-size:12.1px;color:#262626;letter-spacing:-0.424px;left:1180.80px;">Sum of Sales</span>
<svg style="left:1316px;top:406.0px" width="7" height="5" viewBox="0 0 7 5" fill="none" stroke="#333" stroke-width="1.2"><path d="M0.7 0.8L3.5 3.6 6.3 0.8"/></svg>
<div style="left:1014px;top:442.3px;width:12.6px;height:12.6px;background:#fff;border:1px solid #666;border-radius:2.5px"></div>
<span style="top:440.00px;font-size:12.1px;color:#262626;letter-spacing:-0.159px;left:1033.60px;">Defer Layout Update</span>
<div style="left:1281.5px;top:436.5px;width:49.5px;height:24.5px;background:#f1f1f1;border:1px solid #e0e0e0"></div>
<span style="top:440.00px;font-size:12.1px;color:#b4b4b4;letter-spacing:-0.044px;left:1006.48px;width:600px;text-align:center;">Update</span>
</div></body></html>
